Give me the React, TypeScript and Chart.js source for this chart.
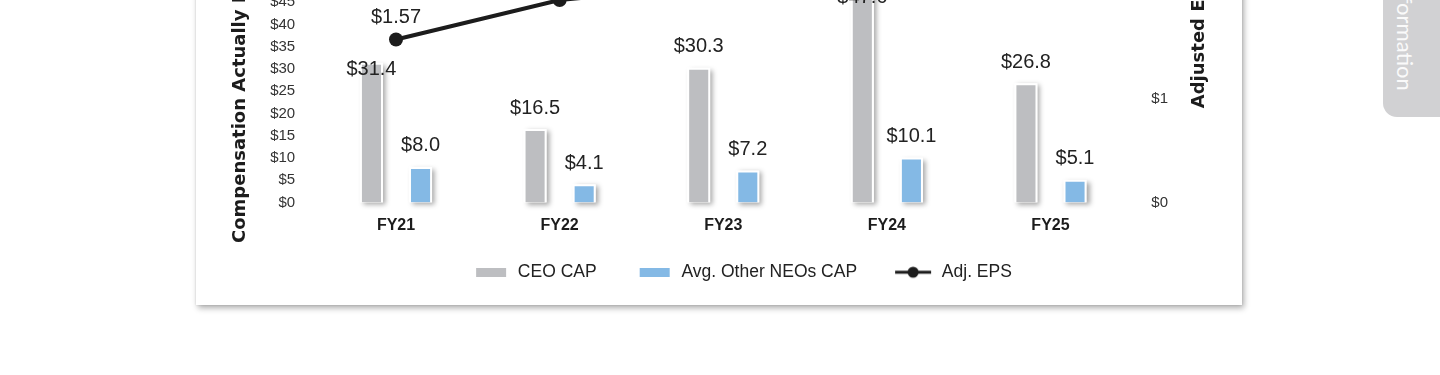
import React, { useEffect, useRef } from 'react';
import { Chart, registerables } from 'chart.js';

Chart.register(...registerables);

// ---- data ----
const categories = ['FY21', 'FY22', 'FY23', 'FY24', 'FY25'];
const ceoCap = [31.4, 16.5, 30.3, 47.6, 26.8];
const otherNeoCap = [8.0, 4.1, 7.2, 10.1, 5.1];
const adjEps = [1.57, 1.95, 2.1, 2.27, 2.42];
const capAxis = { max: 70, step: 5 };
const epsAxis = { max: 3, step: 1 };
const seriesNames = ['CEO CAP', 'Avg. Other NEOs CAP', 'Adj. EPS'];
const leftTitle = 'Compensation Actually Paid ($ millions)';
const rightTitle = 'Adjusted EPS';
const tabText = 'Additional Information';

// ---- styles ----
const GRAY = '#bdbec1';
const BLUE = '#84b9e5';
const INK = '#1c1c1c';
const SANS = '"Liberation Sans", Arial, sans-serif';
const WIDE = '"DejaVu Sans", sans-serif';
const ICON_W = 56;

const barShadow = {
  id: 'barShadow',
  beforeDatasetsDraw(chart: any) {
    const ctx = chart.ctx;
    ctx.save();
    ctx.shadowColor = 'rgba(0,0,0,0.35)';
    ctx.shadowBlur = 5;
    ctx.shadowOffsetX = 3;
    ctx.shadowOffsetY = 2;
    ctx.fillStyle = '#ffffff';
    chart.data.datasets.forEach((_ds: any, i: number) => {
      const meta = chart.getDatasetMeta(i);
      if (meta.type !== 'bar' || meta.hidden) return;
      meta.data.forEach((el: any) => {
        const { x, y, base, width } = el.getProps(['x', 'y', 'base', 'width'], true);
        ctx.fillRect(x - width / 2, Math.min(y, base), width, Math.abs(base - y));
      });
    });
    ctx.restore();
  },
};

const valueLabels = {
  id: 'valueLabels',
  afterDatasetsDraw(chart: any) {
    const ctx = chart.ctx;
    ctx.save();
    ctx.font = `20px ${SANS}`;
    ctx.fillStyle = '#222';
    ctx.textAlign = 'center';
    ctx.textBaseline = 'middle';
    const lineMeta = chart.getDatasetMeta(2);
    [0, 1].forEach((di) => {
      const meta = chart.getDatasetMeta(di);
      const values = chart.data.datasets[di].data;
      meta.data.forEach((el: any, i: number) => {
        const { x, y } = el.getProps(['x', 'y'], true);
        const pt = lineMeta.data[i];
        const d = pt ? y - pt.y : 999;
        const clash = d < 40 && d > -20;
        const ly = clash ? y + 7 : y - 21;
        ctx.fillText('$' + Number(values[i]).toFixed(1), x, ly);
      });
    });
    lineMeta.data.forEach((el: any, i: number) => {
      ctx.fillText('$' + Number(chart.data.datasets[2].data[i]).toFixed(2), el.x, el.y - 21.5);
    });
    ctx.restore();
  },
};

const axisTitles = {
  id: 'axisTitles',
  afterDraw(chart: any) {
    const { ctx, chartArea } = chart;
    const cy = (chartArea.top + chartArea.bottom) / 2 - 6;
    ctx.save();
    ctx.font = `bold 18px ${WIDE}`;
    ctx.fillStyle = INK;
    ctx.textAlign = 'center';
    ctx.textBaseline = 'alphabetic';
    const items: [number, string][] = [
      [chartArea.left - 69, leftTitle],
      [chartArea.right + 72, rightTitle],
    ];
    items.forEach(([x, t]) => {
      ctx.save();
      ctx.translate(x, cy);
      ctx.rotate(-Math.PI / 2);
      ctx.fillText(t, 0, 0);
      ctx.restore();
    });
    ctx.restore();
  },
};

function makeBox(color: string) {
  const c = document.createElement('canvas');
  c.width = ICON_W;
  c.height = 9;
  const g = c.getContext('2d')!;
  g.fillStyle = color;
  g.fillRect(23, 0, 30, 9);
  return c;
}

function makeLineDot() {
  const c = document.createElement('canvas');
  c.width = ICON_W;
  c.height = 14;
  const g = c.getContext('2d')!;
  g.strokeStyle = INK;
  g.lineWidth = 3;
  g.beginPath();
  g.moveTo(18, 7);
  g.lineTo(54, 7);
  g.stroke();
  g.fillStyle = INK;
  g.beginPath();
  g.arc(36, 7, 5.5, 0, Math.PI * 2);
  g.fill();
  return c;
}

export default function App() {
  const ref = useRef<HTMLCanvasElement | null>(null);

  useEffect(() => {
    if (!ref.current) return;
    const icons = [makeBox(GRAY), makeBox(BLUE), makeLineDot()];
    const chart = new Chart(ref.current, {
      type: 'bar',
      data: {
        labels: categories,
        datasets: [
          {
            type: 'bar',
            label: seriesNames[0],
            data: ceoCap,
            backgroundColor: GRAY,
            borderColor: '#ffffff',
            borderWidth: 2,
            yAxisID: 'yCap',
            order: 1,
            categoryPercentage: 0.6,
            barPercentage: 0.47,
          } as any,
          {
            type: 'bar',
            label: seriesNames[1],
            data: otherNeoCap,
            backgroundColor: BLUE,
            borderColor: '#ffffff',
            borderWidth: 2,
            yAxisID: 'yCap',
            order: 1,
            categoryPercentage: 0.6,
            barPercentage: 0.47,
          } as any,
          {
            type: 'line',
            label: seriesNames[2],
            data: adjEps,
            borderColor: INK,
            backgroundColor: INK,
            borderWidth: 4,
            pointRadius: 7,
            pointBackgroundColor: INK,
            pointBorderWidth: 0,
            yAxisID: 'yEps',
            order: 0,
            tension: 0,
          } as any,
        ],
      },
      options: {
        responsive: false,
        animation: false,
        devicePixelRatio: 1,
        layout: { padding: { top: 30, left: 0, right: 0, bottom: 0 } },
        plugins: {
          tooltip: { enabled: false },
          title: { display: false },
          legend: {
            position: 'bottom',
            labels: {
              usePointStyle: true,
              pointStyleWidth: ICON_W,
              boxHeight: 17,
              padding: 20,
              color: '#222',
              font: { family: SANS, size: 17.5 },
              generateLabels: () =>
                icons.map((icon, i) => ({
                  text: seriesNames[i],
                  pointStyle: icon as any,
                  fillStyle: 'rgba(0,0,0,0)',
                  strokeStyle: 'rgba(0,0,0,0)',
                  lineWidth: 0,
                  hidden: false,
                  datasetIndex: i,
                  fontColor: '#222',
                })),
            },
          },
        },
        scales: {
          x: {
            grid: { display: false, drawTicks: false },
            border: { display: false },
            ticks: { font: { family: SANS, size: 16, weight: 'bold' }, color: INK, padding: 13 },
            afterFit: (s: any) => {
              s.height = 41;
            },
          },
          yCap: {
            position: 'left',
            min: 0,
            max: capAxis.max,
            grid: { display: false, drawTicks: false },
            border: { display: false },
            ticks: {
              stepSize: capAxis.step,
              callback: (v: any) => '$' + v,
              font: { family: SANS, size: 15 },
              color: '#333',
              padding: 19,
            },
            afterFit: (s: any) => {
              s.width = 114.2;
            },
          },
          yEps: {
            position: 'right',
            min: 0,
            max: epsAxis.max,
            grid: { display: false, drawTicks: false },
            border: { display: false },
            ticks: {
              stepSize: epsAxis.step,
              callback: (v: any) => '$' + v,
              font: { family: SANS, size: 15 },
              color: '#333',
              padding: 19,
            },
            afterFit: (s: any) => {
              s.width = 132.7;
            },
          },
        },
      } as any,
      plugins: [barShadow, valueLabels, axisTitles],
    });
    return () => chart.destroy();
  }, []);

  return (
    <div
      style={{
        position: 'absolute',
        left: 0,
        top: 0,
        width: 1440,
        height: 375,
        overflow: 'hidden',
        background: '#ffffff',
      }}
    >
      <div
        style={{
          position: 'absolute',
          left: 196,
          top: -200,
          width: 1046,
          height: 505,
          background: '#ffffff',
          boxShadow: '2px 3px 6px rgba(0,0,0,0.32), 0 0 2px rgba(0,0,0,0.12)',
        }}
      />
      <div
        style={{
          position: 'absolute',
          left: 1383,
          top: -40,
          width: 80,
          height: 157,
          background: '#d1d1d3',
          borderBottomLeftRadius: 14,
        }}
      />
      <div
        style={{
          position: 'absolute',
          left: 1394,
          bottom: 284,
          writingMode: 'vertical-rl',
          fontFamily: 'Lato, "Open Sans", sans-serif',
          fontWeight: 400,
          fontSize: 22,
          lineHeight: 1,
          color: '#fafafa',
          whiteSpace: 'nowrap',
        }}
      >
        {tabText}
      </div>
      <canvas
        ref={ref}
        width={1065}
        height={430}
        style={{ position: 'absolute', left: 200, top: -139, width: 1065, height: 430 }}
      />
    </div>
  );
}
